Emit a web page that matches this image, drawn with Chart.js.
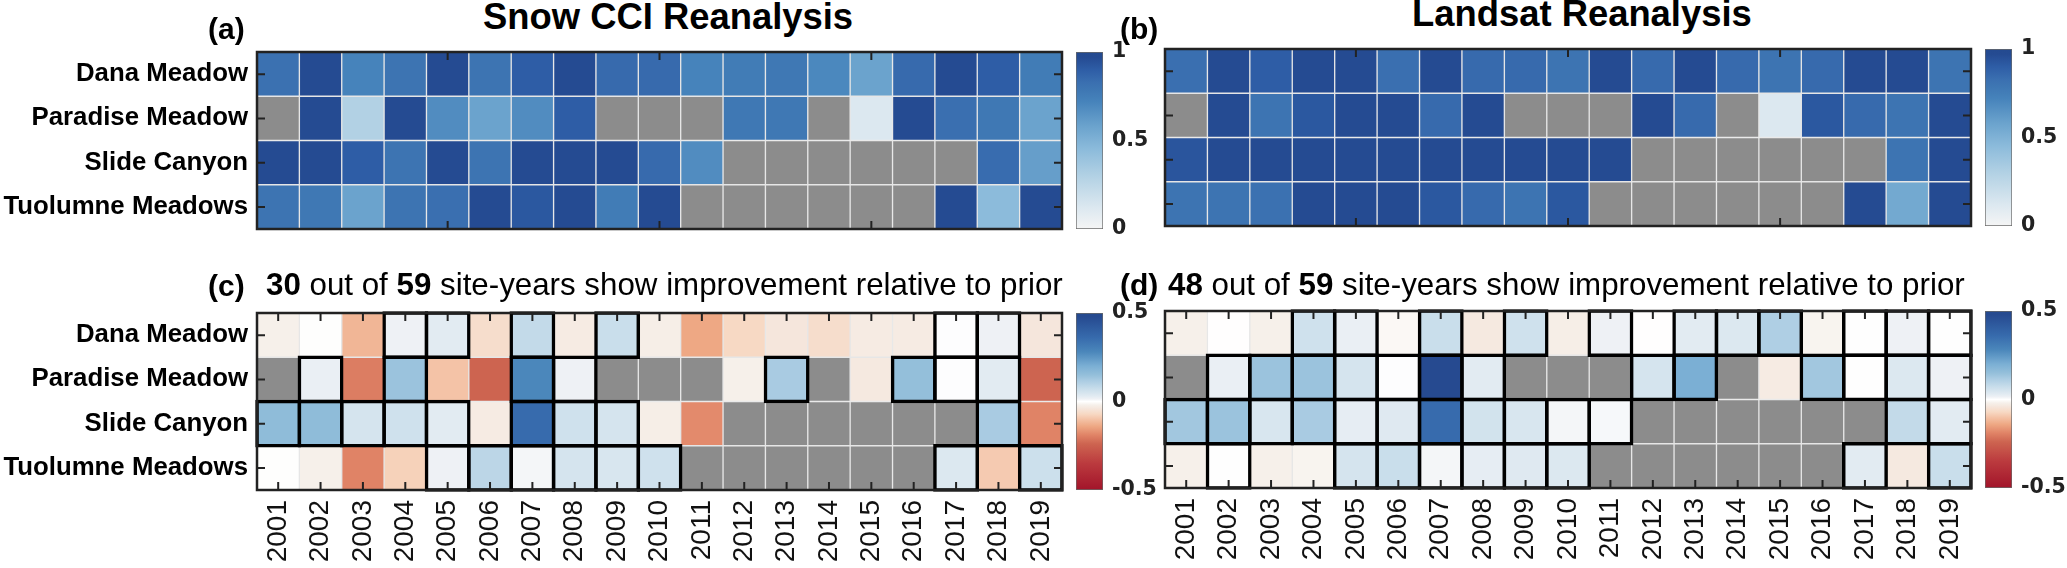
<!DOCTYPE html>
<html>
<head>
<meta charset="utf-8">
<title>Snow CCI and Landsat reanalysis</title>
<script src="https://cdn.jsdelivr.net/npm/chart.js@4/dist/chart.umd.min.js"></script>
<style>
  html, body { margin: 0; width: 2067px; height: 568px; background: #fff; overflow: hidden; }
  canvas { position: absolute; }
  .lbl { position: absolute; white-space: nowrap; line-height: 1; color: #000; font-family: "Liberation Sans", Arial, sans-serif; }
  .lbl b { font-weight: 700; }
  .tag { font-size: 30px; font-weight: 700; }
  .title { font-size: 36.4px; font-weight: 700; }
  .sub { font-size: 31.3px; }
</style>
</head>
<body>
<canvas id="panelA"></canvas><canvas id="barA"></canvas>
<canvas id="panelB"></canvas><canvas id="barB"></canvas>
<canvas id="panelC"></canvas><canvas id="barC"></canvas>
<canvas id="panelD"></canvas><canvas id="barD"></canvas>

<div class="lbl tag" style="left:208px;top:14px">(a)</div>
<div class="lbl title" style="left:483px;top:-1px">Snow CCI Reanalysis</div>
<div class="lbl tag" style="left:1120px;top:14px">(b)</div>
<div class="lbl title" style="left:1412px;top:-4px">Landsat Reanalysis</div>
<div class="lbl tag" style="left:208px;top:271px">(c)</div>
<div class="lbl sub" style="left:266px;top:269px"><b>30</b> out of <b>59</b> site-years show improvement relative to prior</div>
<div class="lbl tag" style="left:1120px;top:270px">(d)</div>
<div class="lbl sub" style="left:1168px;top:269px"><b>48</b> out of <b>59</b> site-years show improvement relative to prior</div>

<script>
const years = ["2001","2002","2003","2004","2005","2006","2007","2008","2009","2010","2011","2012","2013","2014","2015","2016","2017","2018","2019"];
const sites = ["Dana Meadow","Paradise Meadow","Slide Canyon","Tuolumne Meadows"];
const sparseYears = ["2005","2010","2015"];

// (a) Snow CCI reanalysis
const snowDana     = [.82,.97,.72,.8,.97,.8,.9,.97,.85,.85,.72,.76,.78,.7,.58,.85,.97,.9,.76];
const snowParadise = [null,.97,.3,.97,.68,.58,.68,.9,null,null,null,.78,.78,null,.12,.97,.83,.78,.58];
const snowSlide    = [.97,.97,.9,.8,.97,.8,.97,.97,.97,.85,.68,null,null,null,null,null,null,.84,.6];
const snowTuolumne = [.8,.78,.58,.8,.83,.97,.92,.97,.76,.97,null,null,null,null,null,null,.97,.45,.97];

// (b) Landsat reanalysis
const landsatDana     = [.83,.97,.9,.97,.97,.83,.97,.85,.85,.8,.97,.85,.97,.85,.8,.85,.97,.97,.8];
const landsatParadise = [null,.97,.8,.92,.97,.97,.85,.97,null,null,null,.97,.85,null,.12,.92,.85,.8,.97];
const landsatSlide    = [.93,.97,.97,.97,.97,.97,.97,.97,.97,.97,.97,null,null,null,null,null,null,.8,.97];
const landsatTuolumne = [.8,.8,.82,.97,.97,.97,.92,.85,.8,.92,null,null,null,null,null,null,.97,.55,.97];

// (c) Snow CCI improvement relative to prior
const snowDiffDana     = [-.02,-.002,-.12,.015,.03,-.06,.08,-.03,.07,-.025,-.14,-.07,-.04,-.06,-.03,-.03,.002,.015,-.04];
const snowDiffParadise = [null,.02,-.2,.14,-.1,-.24,.28,.015,null,null,null,-.02,.12,null,-.035,.15,.002,.03,-.24];
const snowDiffSlide    = [.16,.16,.05,.06,.03,-.03,.36,.06,.05,-.025,-.18,null,null,null,null,null,null,.12,-.19];
const snowDiffTuolumne = [-.002,-.02,-.19,-.08,.015,.09,.01,.05,.045,.06,null,null,null,null,null,null,.04,-.09,.065];

// (d) Landsat improvement relative to prior
const landsatDiffDana     = [-.02,-.001,-.02,.06,.02,-.01,.07,-.035,.06,-.025,.015,-.001,.03,.04,.11,-.015,.001,.015,.001];
const landsatDiffParadise = [null,.02,.14,.14,.05,.002,.48,.03,null,null,null,.05,.2,null,-.03,.13,.001,.04,.015];
const landsatDiffSlide    = [.13,.14,.045,.12,.025,.035,.36,.055,.045,.01,.008,null,null,null,null,null,null,.08,.03];
const landsatDiffTuolumne = [-.02,.001,-.02,-.015,.05,.07,.01,.025,.035,.04,null,null,null,null,null,null,.03,-.035,.07];

const blues = [[0,"#f5f5f5"],[.12,"#dce8f0"],[.3,"#b2d1e4"],[.45,"#8cbbdb"],[.58,"#6ba3cd"],[.72,"#4683bb"],[.78,"#3f78b4"],[.83,"#3a6fb0"],[.9,"#2e5da6"],[.97,"#254b92"],[1,"#244a8f"]];
const redBlue = [[-.5,"#a2142a"],[-.35,"#bb3a3e"],[-.24,"#cd6450"],[-.19,"#e08366"],[-.14,"#eea884"],[-.1,"#f4c3a7"],[-.07,"#f7d9c4"],[-.04,"#f5e6dc"],[-.02,"#f6f0ea"],[0,"#ffffff"],[.015,"#eef1f5"],[.03,"#e2ebf2"],[.05,"#d5e4ee"],[.07,"#c9deeb"],[.12,"#a9cbe2"],[.15,"#94bfda"],[.2,"#7bafd4"],[.28,"#4b87bb"],[.36,"#376bad"],[.48,"#264a90"],[.5,"#244a8f"]];
const MISSING = "#8c8c8c";
const SANS = '"Liberation Sans", Arial, sans-serif';

function hex(c) { return [1,3,5].map(i => parseInt(c.slice(i, i + 2), 16)); }
function colorOf(v, stops) {
  if (v === null) return MISSING;
  for (let i = 1; i < stops.length; i++) {
    if (v <= stops[i][0]) {
      const t = (v - stops[i-1][0]) / (stops[i][0] - stops[i-1][0]);
      const a = hex(stops[i-1][1]), b = hex(stops[i][1]);
      return "rgb(" + a.map((x, k) => Math.round(x + (b[k] - x) * t)).join(",") + ")";
    }
  }
  return stops[stops.length - 1][1];
}

// box and the small inward ticks on all four sides
const frame = {
  id: "frame",
  afterDatasetsDraw(chart, args, opts) {
    const { ctx, chartArea: a, scales: { x, y } } = chart;
    ctx.save();
    ctx.strokeStyle = "#222";
    ctx.lineWidth = 2;
    ctx.beginPath();
    opts.xTicks.forEach(t => {
      const px = x.getPixelForValue(years.indexOf(t));
      ctx.moveTo(px, a.top); ctx.lineTo(px, a.top + 8);
      ctx.moveTo(px, a.bottom); ctx.lineTo(px, a.bottom - 8);
    });
    sites.forEach((s, i) => {
      const py = y.getPixelForValue(i + .5);
      ctx.moveTo(a.left, py); ctx.lineTo(a.left + 8, py);
      ctx.moveTo(a.right, py); ctx.lineTo(a.right - 8, py);
    });
    ctx.stroke();
    ctx.lineWidth = 2.5;
    ctx.strokeRect(a.left, a.top, a.right - a.left, a.bottom - a.top);
    ctx.restore();
  }
};

function place(id, left, top, w, h) {
  const c = document.getElementById(id);
  c.width = w; c.height = h;
  c.style.left = left + "px"; c.style.top = top + "px";
  return c;
}

function heatmap(id, box, rows, stops, opts) {
  const padT = 8, padR = 6, padL = 6, xHeight = opts.showYears ? 78 : 0, padB = opts.showYears ? 0 : 8;
  // canvases of the right-hand panels start just left of the plot, they have no site labels
  const left = opts.showSites ? 0 : box.left - padL;
  const yWidth = opts.showSites ? box.left : 0;
  const canvas = place(id, left, box.top - padT, box.right + padR - left, box.bottom - box.top + padT + xHeight + padB);
  const datasets = [];
  rows.forEach((vals, r) => {
    datasets.push({
      data: vals.map(() => [r, r + 1]),
      backgroundColor: vals.map(v => colorOf(v, stops)),
      borderColor: "#e6e6e6",
      borderWidth: 1,
      borderSkipped: false,
      categoryPercentage: 1,
      barPercentage: 1,
      grouped: false,
      order: 2
    });
  });
  if (opts.outlined) {
    rows.forEach((vals, r) => {
      datasets.push({
        data: vals.map(v => (v !== null && v > 0) ? [r - .04, r + 1.04] : null),
        backgroundColor: "rgba(0,0,0,0)",
        borderColor: "#000",
        borderWidth: 3.5,
        borderSkipped: false,
        categoryPercentage: 1,
        barPercentage: 1.083,
        grouped: false,
        clip: false,
        order: 1
      });
    });
  }
  return new Chart(canvas, {
    type: "bar",
    data: { labels: years, datasets },
    plugins: [frame],
    options: {
      responsive: false,
      animation: false,
      layout: { padding: { top: padT, right: padR, bottom: padB, left: opts.showSites ? 0 : padL } },
      plugins: { legend: { display: false }, tooltip: { enabled: false }, frame: { xTicks: opts.showYears ? years : sparseYears } },
      scales: {
        x: {
          grid: { display: false, drawTicks: false },
          border: { display: false },
          afterFit(s) { s.height = xHeight; s.paddingLeft = 0; s.paddingRight = 0; },
          ticks: {
            display: opts.showYears, autoSkip: false, minRotation: 90, maxRotation: 90, padding: 10,
            color: "#111", font: { family: SANS, size: 28 }
          }
        },
        y: {
          min: 0, max: 4, reverse: true,
          grid: { display: false, drawTicks: false },
          border: { display: false },
          afterFit(s) { s.width = yWidth; s.paddingTop = 0; s.paddingBottom = 0; },
          afterBuildTicks(s) { s.ticks = sites.map((n, i) => ({ value: i + .5 })); },
          ticks: {
            display: opts.showSites,
            padding: 9, color: "#000", font: { family: SANS, size: 25.8, weight: "bold" },
            callback: v => sites[Math.floor(v)]
          }
        }
      }
    }
  });
}

function colorbar(id, box, stops, lo, hi, marks) {
  const padL = 2, padV = 14, axisW = 55;
  const canvas = place(id, box.left - padL, box.top - padV, padL + box.right - box.left + axisW, box.bottom - box.top + 2 * padV);
  return new Chart(canvas, {
    type: "bar",
    data: { labels: ["colour"], datasets: [{
      data: [[lo, hi]],
      categoryPercentage: 1, barPercentage: 1,
      borderWidth: 1, borderColor: "#6a6a6a", borderSkipped: false,
      backgroundColor(c) {
        const a = c.chart.chartArea;
        if (!a) return "#fff";
        const g = c.chart.ctx.createLinearGradient(0, a.bottom, 0, a.top);
        stops.forEach(s => g.addColorStop((s[0] - lo) / (hi - lo), s[1]));
        return g;
      }
    }] },
    options: {
      responsive: false,
      animation: false,
      layout: { padding: { top: padV, bottom: padV, left: padL, right: 0 } },
      plugins: { legend: { display: false }, tooltip: { enabled: false } },
      scales: {
        x: { display: false },
        y: {
          position: "right", min: lo, max: hi,
          grid: { display: false, drawTicks: false },
          border: { display: false },
          afterFit(s) { s.width = axisW; s.paddingTop = 0; s.paddingBottom = 0; },
          afterBuildTicks(s) { s.ticks = marks.map(value => ({ value })); },
          ticks: {
            padding: 9, color: "#222", font: { family: '"DejaVu Sans", sans-serif', size: 20.5, weight: "bold" },
            callback: v => String(v)
          }
        }
      }
    }
  });
}

heatmap("panelA", { left: 257, right: 1062, top: 52, bottom: 229 }, [snowDana, snowParadise, snowSlide, snowTuolumne], blues, { showYears: false, showSites: true, outlined: false });
heatmap("panelB", { left: 1165, right: 1971, top: 49, bottom: 226 }, [landsatDana, landsatParadise, landsatSlide, landsatTuolumne], blues, { showYears: false, showSites: false, outlined: false });
heatmap("panelC", { left: 257, right: 1062, top: 313, bottom: 490 }, [snowDiffDana, snowDiffParadise, snowDiffSlide, snowDiffTuolumne], redBlue, { showYears: true, showSites: true, outlined: true });
heatmap("panelD", { left: 1165, right: 1971, top: 311, bottom: 488 }, [landsatDiffDana, landsatDiffParadise, landsatDiffSlide, landsatDiffTuolumne], redBlue, { showYears: true, showSites: false, outlined: true });

colorbar("barA", { left: 1076, right: 1103, top: 52, bottom: 229 }, blues, 0, 1, [0, .5, 1]);
colorbar("barB", { left: 1985, right: 2012, top: 49, bottom: 226 }, blues, 0, 1, [0, .5, 1]);
colorbar("barC", { left: 1076, right: 1103, top: 313, bottom: 490 }, redBlue, -.5, .5, [-.5, 0, .5]);
colorbar("barD", { left: 1985, right: 2012, top: 311, bottom: 488 }, redBlue, -.5, .5, [-.5, 0, .5]);
</script>
</body>
</html>
